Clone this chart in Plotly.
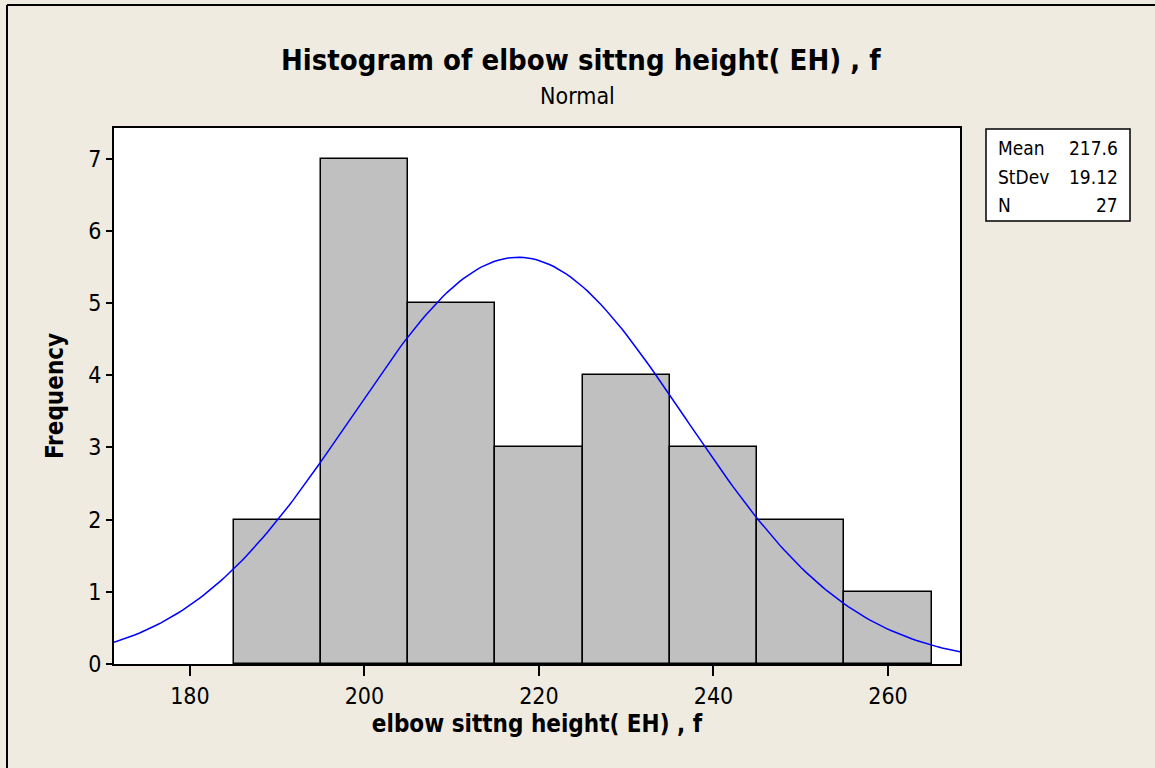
import numpy as np
import plotly.graph_objects as go

# Data
bin_centers = [190, 200, 210, 220, 230, 240, 250, 260]
counts = [2, 7, 5, 3, 4, 3, 2, 1]
bin_width = 10
mean_val = 217.6
stdev_val = 19.12
n_val = 27
x_ticks = [180, 200, 220, 240, 260]
y_ticks = [0, 1, 2, 3, 4, 5, 6, 7]

title_text = "Histogram of elbow sittng height( EH) , f"
subtitle_text = "Normal"
x_title = "elbow sittng height( EH) , f"
y_title = "Frequency"

FONT = "DejaVu Sans Condensed, DejaVu Sans"
BG = "#EFEBE1"

# Plot-area geometry (pixels)
W, H = 1155, 768
L, R, T, B = 114, 960, 128, 664
pw, ph = R - L, B - T

def px(x):
    return (x - L) / pw

def py(y):
    return (B - y) / ph

xr = [171.3, 268.25]
yr = [0, 7.425]

# fitted normal curve from the displayed mean / stdev
xc = np.linspace(xr[0], xr[1] + 0.4, 200)
yc = n_val * bin_width / (stdev_val * np.sqrt(2 * np.pi)) * np.exp(-0.5 * ((xc - mean_val) / stdev_val) ** 2)

fig = go.Figure()
fig.add_trace(go.Bar(
    x=bin_centers, y=counts, width=bin_width,
    marker=dict(color="#C0C0C0", line=dict(color="black", width=1.5)),
    showlegend=False, hoverinfo="skip",
))
fig.add_trace(go.Scatter(
    x=xc, y=yc, mode="lines", line=dict(color="#0000FF", width=1.5),
    showlegend=False, hoverinfo="skip", cliponaxis=False,
))

fig.update_layout(
    width=W, height=H,
    margin=dict(l=L, r=W - R, t=T, b=H - B),
    paper_bgcolor=BG, plot_bgcolor="white",
    font=dict(family=FONT, color="black"),
    bargap=0,
    xaxis=dict(
        range=xr, tickvals=x_ticks, ticks="outside", ticklen=10, tickwidth=1.5,
        tickcolor="black", showgrid=False, zeroline=False,
        showline=True, linecolor="black", linewidth=2, mirror=True,
        tickfont=dict(size=23, family=FONT),
        title=dict(text=x_title, font=dict(size=24, family=FONT, weight="bold"), standoff=8),
    ),
    yaxis=dict(
        range=yr, tickvals=y_ticks, ticks="outside", ticklen=6, tickwidth=1.5,
        tickcolor="black", showgrid=False, zeroline=False,
        showline=True, linecolor="black", linewidth=2, mirror=True,
        tickfont=dict(size=23, family=FONT),
        title=dict(text=y_title, font=dict(size=24, family=FONT, weight="bold"), standoff=18),
    ),
    showlegend=False,
)

# titles
fig.add_annotation(x=px(581), y=py(60), xref="paper", yref="paper", text="<b>" + title_text + "</b>",
                   showarrow=False, font=dict(size=29, family=FONT), xanchor="center", yanchor="middle")
fig.add_annotation(x=px(577), y=py(96), xref="paper", yref="paper", text=subtitle_text,
                   showarrow=False, font=dict(size=23, family=FONT), xanchor="center", yanchor="middle")

# outer border (top & left visible)
fig.add_shape(type="line", xref="paper", yref="paper", x0=px(7), x1=px(7), y0=py(H + 10), y1=py(5),
              line=dict(color="black", width=2))
fig.add_shape(type="line", xref="paper", yref="paper", x0=px(7), x1=px(W + 10), y0=py(5), y1=py(5),
              line=dict(color="black", width=2))

# stats box
fig.add_shape(type="rect", xref="paper", yref="paper", x0=px(986), x1=px(1130), y0=py(221), y1=py(129),
              line=dict(color="black", width=1.5), fillcolor="white")
labels = ["Mean", "StDev", "N"]
values = [f"{mean_val:.1f}", f"{stdev_val:.2f}", f"{n_val}"]
for i, (lab, val) in enumerate(zip(labels, values)):
    yy = py(148 + i * 28.5)
    fig.add_annotation(x=px(996), y=yy, xref="paper", yref="paper", text=lab, showarrow=False,
                       font=dict(size=19, family=FONT), xanchor="left", yanchor="middle")
    fig.add_annotation(x=px(1120), y=yy, xref="paper", yref="paper", text=val, showarrow=False,
                       font=dict(size=19, family=FONT), xanchor="right", yanchor="middle")

fig.write_html("out.html", config={"displayModeBar": False},
               post_script="document.body.style.margin='0';document.body.style.overflow='hidden';")
